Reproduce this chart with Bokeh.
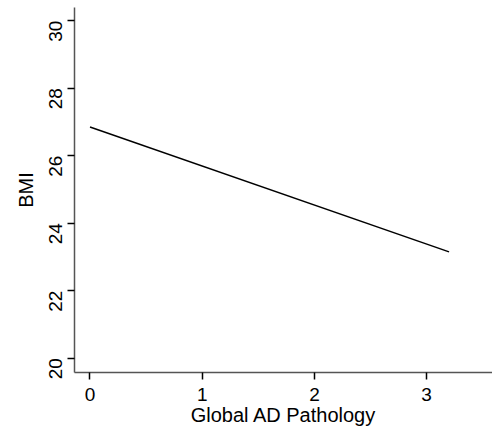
import math
from bokeh.plotting import figure
from bokeh.models import Range1d, FixedTicker
from bokeh.embed import file_html
from bokeh.resources import INLINE

# Data
pathology = [0.0, 3.2]
bmi = [26.85, 23.15]
x_ticks = [0, 1, 2, 3]
y_ticks = [20, 22, 24, 26, 28, 30]
x_title = "Global AD Pathology"
y_title = "BMI"

p = figure(width=492, height=434, output_backend="svg", toolbar_location=None,
           x_range=Range1d(-0.138, 3.587), y_range=Range1d(19.577, 30.39),
           min_border_left=74, min_border_right=0, min_border_top=7, min_border_bottom=62)
p.grid.visible = False
p.outline_line_color = None
p.background_fill_color = "white"
p.border_fill_color = "white"

p.line(pathology, bmi, line_color="black", line_width=1.5)

FONT = "Liberation Sans"
for ax in (p.xaxis[0], p.yaxis[0]):
    ax.axis_line_color = "#555555"
    ax.axis_line_width = 1.5
    ax.major_tick_line_color = "black"
    ax.major_tick_line_width = 1.5
    ax.major_tick_out = 7
    ax.major_tick_in = 0
    ax.minor_tick_line_color = None
    ax.major_label_text_font = FONT
    ax.major_label_text_font_size = "19px"
    ax.major_label_text_color = "black"
    ax.axis_label_text_font = FONT
    ax.axis_label_text_font_size = "20px"
    ax.axis_label_text_font_style = "normal"
    ax.axis_label_text_color = "black"

p.xaxis[0].ticker = FixedTicker(ticks=x_ticks)
p.yaxis[0].ticker = FixedTicker(ticks=y_ticks)
p.xaxis[0].axis_label = x_title
p.yaxis[0].axis_label = y_title
p.xaxis[0].major_label_standoff = 8
p.yaxis[0].major_label_standoff = 12
p.yaxis[0].major_label_orientation = math.pi / 2
p.xaxis[0].axis_label_standoff = 0
p.yaxis[0].axis_label_standoff = 3

open("out.html", "w").write(file_html(p, INLINE))
